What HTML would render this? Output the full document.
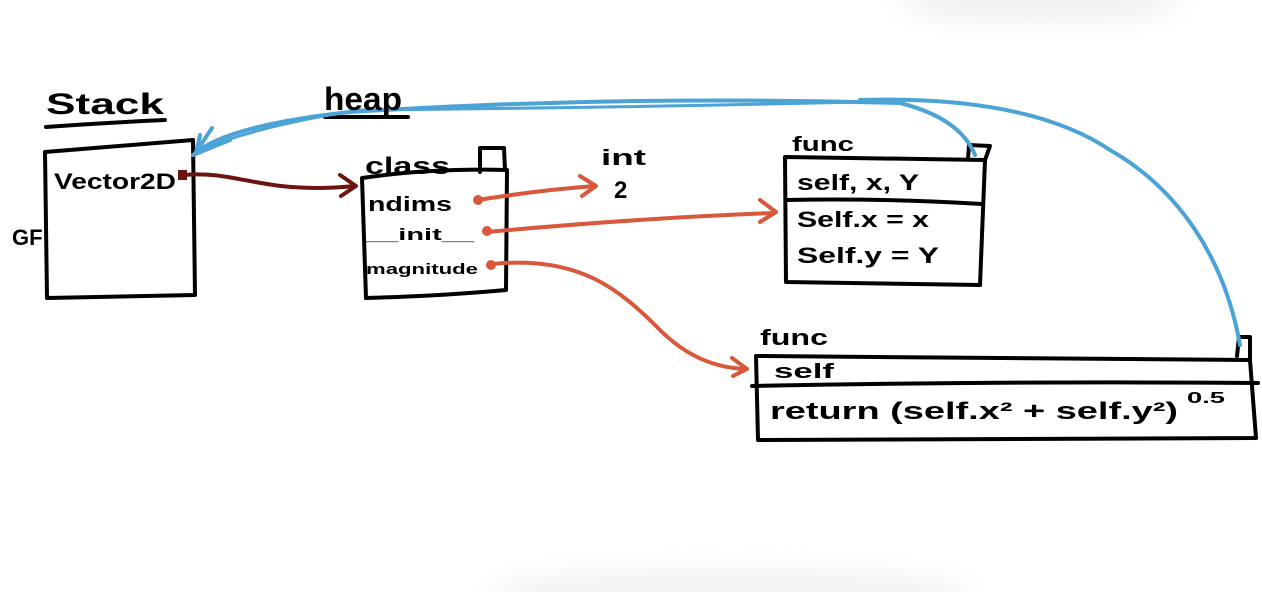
<!DOCTYPE html>
<html><head><meta charset="utf-8"><style>
html,body{margin:0;padding:0;background:#fff;width:1262px;height:592px;overflow:hidden;}
svg{display:block}
text{font-family:"Liberation Sans",sans-serif;font-weight:bold;fill:#000}
</style></head><body>
<svg width="1262" height="592" viewBox="0 0 1262 592" xmlns="http://www.w3.org/2000/svg">
<defs>
<filter id="b" x="-50%" y="-50%" width="200%" height="200%"><feGaussianBlur stdDeviation="14"/></filter>
</defs>
<ellipse cx="1040" cy="0" rx="140" ry="18" fill="#ececec" filter="url(#b)"/>
<ellipse cx="730" cy="595" rx="240" ry="25" fill="#f1f1f1" filter="url(#b)"/>

<g fill="none" stroke="#000" stroke-width="4" stroke-linecap="round" stroke-linejoin="round">
<path d="M46 127 Q100 123 165 120"/>
<path d="M325 117 L408 117"/>
<path d="M45 152 L193 140 L195 295 L47 298 Z"/>
<path d="M362 178 Q430 168 507 170 L506 290 Q440 296 366 298 Z"/>
<path d="M480 172 L480 148 L504 148 L505 170"/>
<path d="M785 157 L985 160 L980 285 L786 282 Z"/>
<path d="M786 200 Q880 198 982 204"/>
<path d="M968 159 L969 145 L990 146 L985 160"/>
<path d="M756 356 Q1000 357 1250 360 L1256 438 L758 440 Z"/>
<path d="M752 386 Q1000 381 1258 383"/>
<path d="M1237 356 L1239 337 L1250 337 L1250 358"/>
</g>

<g fill="none" stroke-linecap="round" stroke-linejoin="round">
<path d="M183 175 C240 170 260 195 355 186" stroke="#6b1410" stroke-width="4"/>
<path d="M340 175 L356 186 L341 196" stroke="#6b1410" stroke-width="4"/>
<path d="M478 200 Q540 190 595 186" stroke="#d9573a" stroke-width="4"/>
<path d="M580 176 L596 186 L582 196" stroke="#d9573a" stroke-width="4"/>
<path d="M487 232 Q640 218 773 213" stroke="#d9573a" stroke-width="4"/>
<path d="M760 200 L776 212 L760 222" stroke="#d9573a" stroke-width="4"/>
<path d="M492 264 C580 255 620 290 660 330 C690 360 720 368 745 369" stroke="#d9573a" stroke-width="4"/>
<path d="M732 358 L747 369 L733 376" stroke="#d9573a" stroke-width="4"/>
<path d="M975 155 Q960 118 900 103 Q620 95 350 112 Q230 125 195 153" stroke="#4ba3d6" stroke-width="4"/>
<path d="M860 102 Q600 108 360 110 Q260 125 200 150" stroke="#4ba3d6" stroke-width="3"/>
<path d="M1240 345 C1225 260 1180 190 1110 150 C1050 110 960 97 860 100" stroke="#4ba3d6" stroke-width="4"/>
<path d="M193 155 L230 140 M196 152 L212 128 M196 153 L200 135" stroke="#4ba3d6" stroke-width="4"/>
</g>
<rect x="178" y="170" width="9" height="10" fill="#6b1410"/>
<circle cx="478" cy="200" r="5" fill="#d9573a"/>
<circle cx="487" cy="231" r="5" fill="#d9573a"/>
<circle cx="491" cy="265" r="5" fill="#d9573a"/>

<text x="46" y="114" font-size="30" textLength="118" lengthAdjust="spacingAndGlyphs">Stack</text>
<text x="324" y="110" font-size="32" font-weight="normal" textLength="78" lengthAdjust="spacingAndGlyphs">heap</text>
<text x="54" y="189" font-size="22" textLength="122" lengthAdjust="spacingAndGlyphs">Vector2D</text>
<text x="12" y="245" font-size="22">GF</text>
<text x="365" y="174" font-size="24" font-weight="normal" textLength="85" lengthAdjust="spacingAndGlyphs">class</text>
<text x="368" y="211" font-size="20" textLength="84" lengthAdjust="spacingAndGlyphs">ndims</text>
<text x="366" y="240" font-size="17" textLength="108" lengthAdjust="spacingAndGlyphs">__init__</text>
<text x="366" y="274" font-size="15" textLength="112" lengthAdjust="spacingAndGlyphs">magnitude</text>
<text x="601" y="165" font-size="22" textLength="45" lengthAdjust="spacingAndGlyphs">int</text>
<text x="614" y="198" font-size="24">2</text>
<text x="792" y="151" font-size="20" textLength="62" lengthAdjust="spacingAndGlyphs">func</text>
<text x="797" y="190" font-size="22" textLength="122" lengthAdjust="spacingAndGlyphs">self, x, Y</text>
<text x="797" y="227" font-size="22" textLength="132" lengthAdjust="spacingAndGlyphs">Self.x = x</text>
<text x="797" y="263" font-size="22" textLength="142" lengthAdjust="spacingAndGlyphs">Self.y = Y</text>
<text x="760" y="345" font-size="22" textLength="68" lengthAdjust="spacingAndGlyphs">func</text>
<text x="774" y="378" font-size="20" textLength="60" lengthAdjust="spacingAndGlyphs">self</text>
<text x="770" y="419" font-size="24" textLength="408" lengthAdjust="spacingAndGlyphs">return (self.x² + self.y²)</text>
<text x="1187" y="403" font-size="16" textLength="38" lengthAdjust="spacingAndGlyphs">0.5</text>
</svg>
</body></html>
